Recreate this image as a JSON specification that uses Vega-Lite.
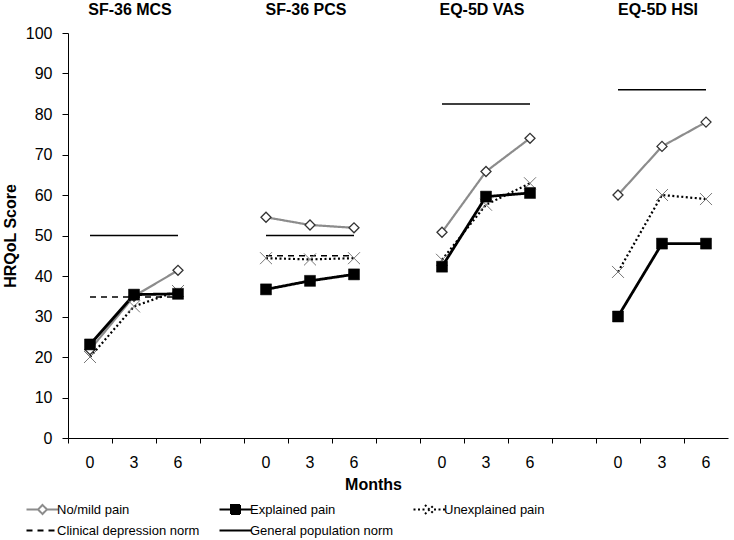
{
  "$schema": "https://vega.github.io/schema/vega-lite/v6.json",
  "width": 660,
  "height": 405,
  "padding": {"left": 2, "top": 2, "right": 5, "bottom": 2},
  "config": {
    "view": {"stroke": null},
    "font": "Liberation Sans",
    "axis": {"domainColor": "black", "tickColor": "black", "labelColor": "black", "titleColor": "black", "grid": false, "labelFont": "Liberation Sans", "titleFont": "Liberation Sans"}
  },
  "datasets": {
    "pain": [
      {"panel": "SF-36 MCS", "slot": "MCS|0", "series": "No/mild pain", "score": 21.8},
      {"panel": "SF-36 MCS", "slot": "MCS|3", "series": "No/mild pain", "score": 35.0},
      {"panel": "SF-36 MCS", "slot": "MCS|6", "series": "No/mild pain", "score": 41.4},
      {"panel": "SF-36 PCS", "slot": "PCS|0", "series": "No/mild pain", "score": 54.5},
      {"panel": "SF-36 PCS", "slot": "PCS|3", "series": "No/mild pain", "score": 52.6},
      {"panel": "SF-36 PCS", "slot": "PCS|6", "series": "No/mild pain", "score": 51.9},
      {"panel": "EQ-5D VAS", "slot": "VAS|0", "series": "No/mild pain", "score": 50.8},
      {"panel": "EQ-5D VAS", "slot": "VAS|3", "series": "No/mild pain", "score": 65.8},
      {"panel": "EQ-5D VAS", "slot": "VAS|6", "series": "No/mild pain", "score": 74.0},
      {"panel": "EQ-5D HSI", "slot": "HSI|0", "series": "No/mild pain", "score": 60.0},
      {"panel": "EQ-5D HSI", "slot": "HSI|3", "series": "No/mild pain", "score": 72.0},
      {"panel": "EQ-5D HSI", "slot": "HSI|6", "series": "No/mild pain", "score": 78.0},
      {"panel": "SF-36 MCS", "slot": "MCS|0", "series": "Unexplained pain", "score": 20.0},
      {"panel": "SF-36 MCS", "slot": "MCS|3", "series": "Unexplained pain", "score": 32.5},
      {"panel": "SF-36 MCS", "slot": "MCS|6", "series": "Unexplained pain", "score": 36.3},
      {"panel": "SF-36 PCS", "slot": "PCS|0", "series": "Unexplained pain", "score": 44.4},
      {"panel": "SF-36 PCS", "slot": "PCS|3", "series": "Unexplained pain", "score": 44.1},
      {"panel": "SF-36 PCS", "slot": "PCS|6", "series": "Unexplained pain", "score": 44.4},
      {"panel": "EQ-5D VAS", "slot": "VAS|0", "series": "Unexplained pain", "score": 44.0},
      {"panel": "EQ-5D VAS", "slot": "VAS|3", "series": "Unexplained pain", "score": 57.6},
      {"panel": "EQ-5D VAS", "slot": "VAS|6", "series": "Unexplained pain", "score": 62.9},
      {"panel": "EQ-5D HSI", "slot": "HSI|0", "series": "Unexplained pain", "score": 41.0},
      {"panel": "EQ-5D HSI", "slot": "HSI|3", "series": "Unexplained pain", "score": 60.0},
      {"panel": "EQ-5D HSI", "slot": "HSI|6", "series": "Unexplained pain", "score": 59.0},
      {"panel": "SF-36 MCS", "slot": "MCS|0", "series": "Explained pain", "score": 23.1},
      {"panel": "SF-36 MCS", "slot": "MCS|3", "series": "Explained pain", "score": 35.4},
      {"panel": "SF-36 MCS", "slot": "MCS|6", "series": "Explained pain", "score": 35.6},
      {"panel": "SF-36 PCS", "slot": "PCS|0", "series": "Explained pain", "score": 36.7},
      {"panel": "SF-36 PCS", "slot": "PCS|3", "series": "Explained pain", "score": 38.8},
      {"panel": "SF-36 PCS", "slot": "PCS|6", "series": "Explained pain", "score": 40.4},
      {"panel": "EQ-5D VAS", "slot": "VAS|0", "series": "Explained pain", "score": 42.3},
      {"panel": "EQ-5D VAS", "slot": "VAS|3", "series": "Explained pain", "score": 59.6},
      {"panel": "EQ-5D VAS", "slot": "VAS|6", "series": "Explained pain", "score": 60.5},
      {"panel": "EQ-5D HSI", "slot": "HSI|0", "series": "Explained pain", "score": 30.0},
      {"panel": "EQ-5D HSI", "slot": "HSI|3", "series": "Explained pain", "score": 48.0},
      {"panel": "EQ-5D HSI", "slot": "HSI|6", "series": "Explained pain", "score": 48.0}
    ],
    "norms": [
      {"panel": "SF-36 MCS", "start": "MCS|0", "end": "MCS|6", "series": "General population norm", "score": 50},
      {"panel": "SF-36 MCS", "start": "MCS|0", "end": "MCS|6", "series": "Clinical depression norm", "score": 34.8},
      {"panel": "SF-36 PCS", "start": "PCS|0", "end": "PCS|6", "series": "General population norm", "score": 50},
      {"panel": "SF-36 PCS", "start": "PCS|0", "end": "PCS|6", "series": "Clinical depression norm", "score": 45.0},
      {"panel": "EQ-5D VAS", "start": "VAS|0", "end": "VAS|6", "series": "General population norm", "score": 82.5},
      {"panel": "EQ-5D HSI", "start": "HSI|0", "end": "HSI|6", "series": "General population norm", "score": 86.0}
    ],
    "titles": [
      {"panel": "SF-36 MCS", "slot": "MCS|3"},
      {"panel": "SF-36 PCS", "slot": "PCS|3"},
      {"panel": "EQ-5D VAS", "slot": "VAS|3"},
      {"panel": "EQ-5D HSI", "slot": "HSI|3"}
    ]
  },
  "layer": [
    {
      "data": {"name": "norms"},
      "mark": {"type": "rule", "strokeWidth": 1.5},
      "encoding": {
        "x": {
          "field": "start", "type": "nominal",
          "scale": {"type": "band", "paddingInner": 0, "paddingOuter": 0,
            "domain": ["MCS|0", "MCS|3", "MCS|6", "g1|", "PCS|0", "PCS|3", "PCS|6", "g2|", "VAS|0", "VAS|3", "VAS|6", "g3|", "HSI|0", "HSI|3", "HSI|6"]},
          "axis": {"title": "Months", "titleFontSize": 16, "titleFontWeight": "bold", "titlePadding": 6, "titleX": 305,
            "labelFontSize": 16, "labelAngle": 0, "bandPosition": 0, "labelOffset": 0, "labelPadding": 11, "tickSize": 5,
            "labelExpr": "split(datum.label, '|')[1]"}
        },
        "x2": {"field": "end"},
        "y": {
          "field": "score", "type": "quantitative",
          "scale": {"domain": [0, 100], "nice": false},
          "axis": {"values": [0, 10, 20, 30, 40, 50, 60, 70, 80, 90, 100], "title": "HRQoL Score", "titleFontSize": 16, "titleFontWeight": "bold",
            "labelFontSize": 16, "tickSize": 6, "labelPadding": 10, "titlePadding": 7}
        },
        "color": {
          "field": "series", "type": "nominal",
          "scale": {"domain": ["No/mild pain", "Explained pain", "Unexplained pain", "Clinical depression norm", "General population norm"],
            "range": ["#8c8c8c", "#000000", "#000000", "#000000", "#000000"]},
          "legend": {
            "orient": "none", "legendX": -43, "legendY": 470, "direction": "horizontal", "columns": 3, "title": null,
            "labelFont": "Liberation Sans", "labelFontSize": 13, "labelColor": "black", "symbolSize": 64, "symbolStrokeWidth": 2,
            "labelOffset": 19, "columnPadding": 15, "rowPadding": 6, "padding": 0,
            "encode": {"symbols": {"update": {
              "shape": {"signal": "datum.value === 'No/mild pain' ? 'M-1.25,0H1.625M3.875,0H6.75M2.75,-1.125L3.875,0L2.75,1.125L1.625,0Z' : datum.value === 'Explained pain' ? 'M-1.25,0H6.75M1.625,-1.125H3.875V1.125H1.625Z' : datum.value === 'Unexplained pain' ? 'M-1.25,0H1.625M3.875,0H6.75M1.625,-1.125L3.875,1.125M1.625,1.125L3.875,-1.125' : 'M-1.25,0H6.75'"},
              "fill": {"signal": "datum.value === 'Explained pain' ? 'black' : datum.value === 'No/mild pain' ? 'white' : 'transparent'"}
            }}}
          }
        },
        "strokeDash": {
          "field": "series", "type": "nominal",
          "scale": {"domain": ["No/mild pain", "Explained pain", "Unexplained pain", "Clinical depression norm", "General population norm"],
            "range": [[1, 0], [1, 0], [2, 2.5], [6, 5], [1, 0]]}
        }
      }
    },
    {
      "data": {"name": "pain"},
      "mark": {"type": "line"},
      "encoding": {
        "x": {"field": "slot", "type": "nominal"},
        "y": {"field": "score", "type": "quantitative"},
        "detail": {"field": "panel"},
        "color": {"field": "series", "type": "nominal"},
        "strokeDash": {"field": "series", "type": "nominal"},
        "strokeWidth": {"condition": {"test": "datum.series === 'Explained pain'", "value": 2.8}, "value": 2.2}
      }
    },
    {
      "data": {"name": "pain"},
      "transform": [{"filter": "datum.series === 'No/mild pain'"}],
      "mark": {"type": "point", "shape": "diamond", "filled": true, "fill": "white", "stroke": "#333333", "strokeWidth": 1.3, "size": 100, "opacity": 1},
      "encoding": {
        "x": {"field": "slot", "type": "nominal"},
        "y": {"field": "score", "type": "quantitative"}
      }
    },
    {
      "data": {"name": "pain"},
      "transform": [{"filter": "datum.series === 'Unexplained pain'"}],
      "mark": {"type": "point", "shape": "M-1,-1L1,1M-1,1L1,-1", "filled": false, "stroke": "#777777", "strokeWidth": 1, "size": 144, "opacity": 1},
      "encoding": {
        "x": {"field": "slot", "type": "nominal"},
        "y": {"field": "score", "type": "quantitative"}
      }
    },
    {
      "data": {"name": "pain"},
      "transform": [{"filter": "datum.series === 'Explained pain'"}],
      "mark": {"type": "point", "shape": "square", "filled": true, "fill": "black", "stroke": "black", "strokeWidth": 0.5, "size": 121, "opacity": 1},
      "encoding": {
        "x": {"field": "slot", "type": "nominal"},
        "y": {"field": "score", "type": "quantitative"}
      }
    },
    {
      "data": {"name": "titles"},
      "mark": {"type": "text", "fontSize": 16, "fontWeight": "bold", "dy": -23, "dx": -4, "color": "black", "baseline": "middle"},
      "encoding": {
        "x": {"field": "slot", "type": "nominal"},
        "y": {"datum": 100},
        "text": {"field": "panel"}
      }
    }
  ]
}
